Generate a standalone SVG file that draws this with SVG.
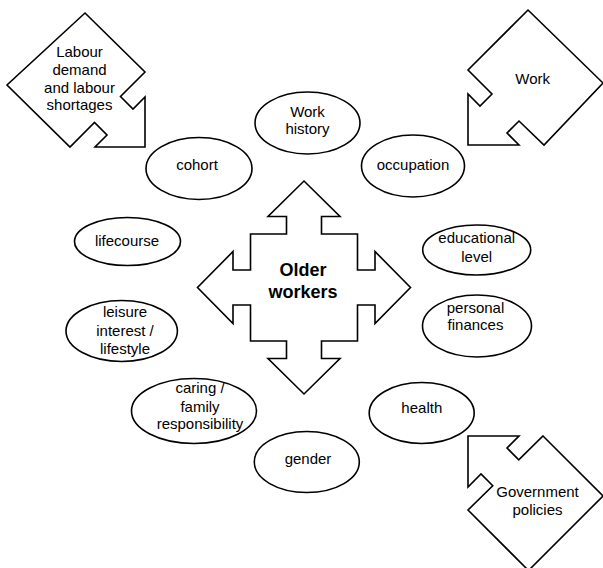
<svg xmlns="http://www.w3.org/2000/svg" width="603" height="568" viewBox="0 0 603 568">
<style>
.s{fill:#fff;stroke:#000;stroke-width:1.6;stroke-linejoin:miter}
.t{font-family:"Liberation Sans",Arial,sans-serif;font-size:15px;fill:#000;text-anchor:middle}
.b{font-family:"Liberation Sans",Arial,sans-serif;font-size:18px;font-weight:bold;fill:#000;text-anchor:middle}
</style>
<rect width="603" height="568" fill="#fff"/>
<g id="labour">
<polygon class="s" points="85,13 145,72 120.5,96.5 133,109 145,97 145,147 95,147 107,135 94.5,122.5 70,147 7,85"/>
<text class="t" x="79.5" y="57">Labour</text>
<text class="t" x="79.5" y="75">demand</text>
<text class="t" x="79.5" y="92.5">and labour</text>
<text class="t" x="79.5" y="110">shortages</text>
</g>
<g id="work">
<polygon class="s" points="528,10 603,83 544,145 519,121 507,133 519,145 468,145 468,94 480,106 492,94 468,70"/>
<text class="t" x="532.7" y="84">Work</text>
</g>
<g id="government">
<polygon class="s" points="543,436 603,496 528.5,570.5 468,510 492.75,485.75 481,474 468,487 468,436 519,436 507,448 518.75,459.75"/>
<text class="t" x="537.5" y="496.5">Government</text>
<text class="t" x="537.5" y="514.5">policies</text>
</g>
<g id="older-workers">
<polygon class="s" points="304,181 340,216.5 321.5,216.5 321.5,234 357.5,234 357.5,270 375,270 375,251.5 410.5,287.5 375,323.5 375,305 357.5,305 357.5,341 321.5,341 321.5,358.5 340,358.5 304,394 268,358.5 286.5,358.5 286.5,341 250.5,341 250.5,305 233,305 233,323.5 197.5,287.5 233,251.5 233,270 250.5,270 250.5,234 286.5,234 286.5,216.5 268,216.5"/>
<text class="b" x="303" y="275.7">Older</text>
<text class="b" x="303" y="297.7">workers</text>
</g>
<g id="work-history">
<ellipse class="s" cx="307.5" cy="123" rx="52.5" ry="31"/>
<text class="t" x="307.5" y="116.5">Work</text>
<text class="t" x="307.5" y="134">history</text>
</g>
<g id="cohort">
<ellipse class="s" cx="199" cy="168.5" rx="53" ry="31"/>
<text class="t" x="197" y="170">cohort</text>
</g>
<g id="occupation">
<ellipse class="s" cx="413" cy="166" rx="51.5" ry="31"/>
<text class="t" x="413" y="170">occupation</text>
</g>
<g id="lifecourse">
<ellipse class="s" cx="127.5" cy="241.5" rx="53" ry="24"/>
<text class="t" x="127" y="245.7">lifecourse</text>
</g>
<g id="educational-level">
<ellipse class="s" cx="476.7" cy="250" rx="54" ry="25"/>
<text class="t" x="476.7" y="243.3">educational</text>
<text class="t" x="476.7" y="261.7">level</text>
</g>
<g id="leisure">
<ellipse class="s" cx="121.7" cy="331" rx="55.7" ry="30.5"/>
<text class="t" x="125" y="317.3">leisure</text>
<text class="t" x="125" y="335.7">interest /</text>
<text class="t" x="125" y="354">lifestyle</text>
</g>
<g id="personal-finances">
<ellipse class="s" cx="477" cy="326" rx="54.5" ry="31"/>
<text class="t" x="475.5" y="312.5">personal</text>
<text class="t" x="475.5" y="330">finances</text>
</g>
<g id="caring">
<ellipse class="s" cx="194" cy="411" rx="62.5" ry="32.5"/>
<text class="t" x="200" y="393.3">caring /</text>
<text class="t" x="200" y="411.7">family</text>
<text class="t" x="200" y="429">responsibility</text>
</g>
<g id="health">
<ellipse class="s" cx="421.7" cy="413" rx="52.5" ry="30.5"/>
<text class="t" x="421.8" y="413.3">health</text>
</g>
<g id="gender">
<ellipse class="s" cx="306.8" cy="462" rx="52.5" ry="30.5"/>
<text class="t" x="308" y="464">gender</text>
</g>
<g id="connectors"/>
</svg>
